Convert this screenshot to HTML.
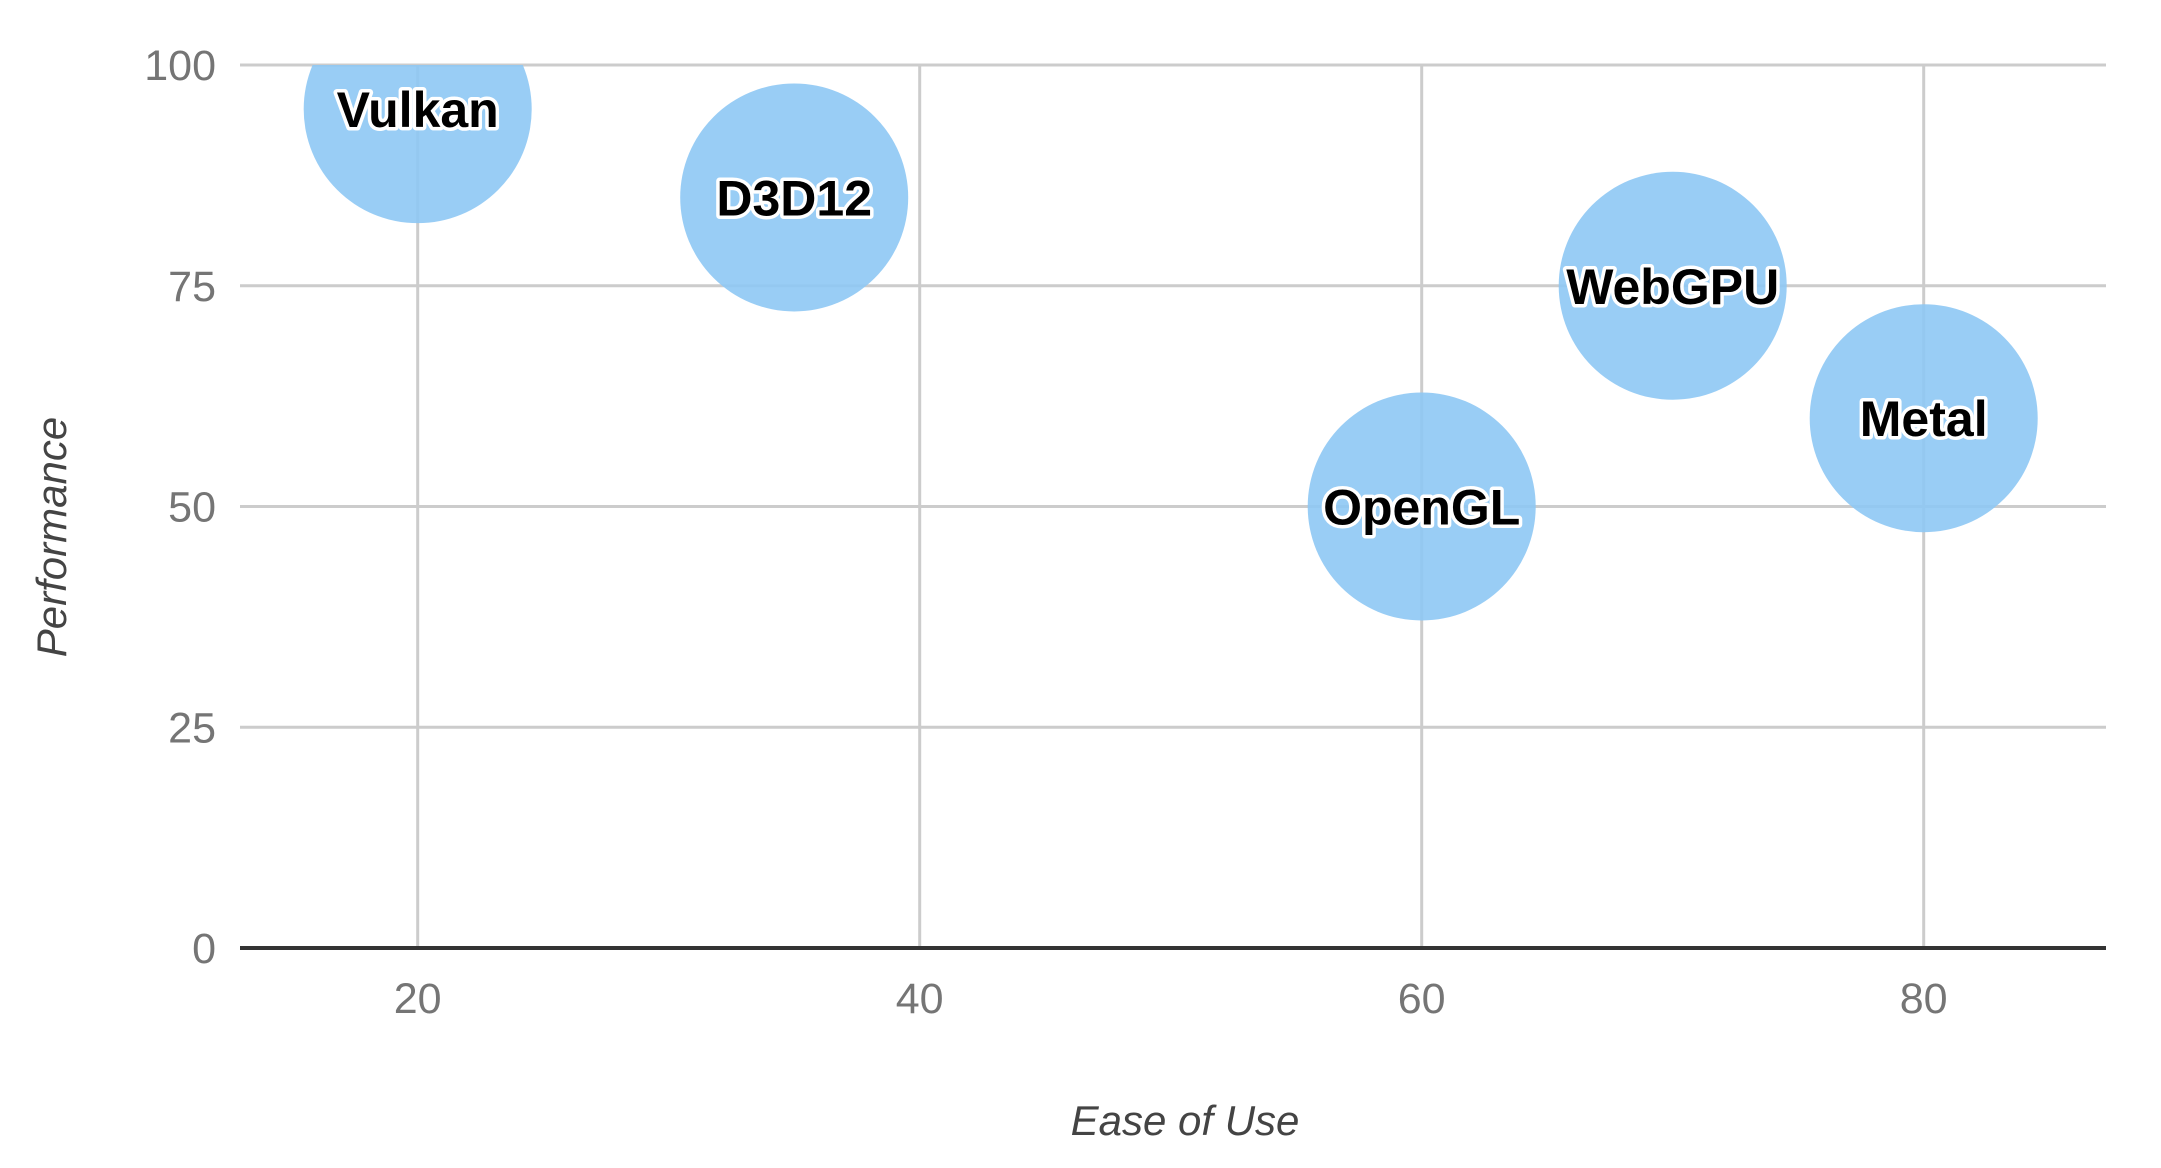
<!DOCTYPE html>
<html><head><meta charset="utf-8"><style>
html,body{margin:0;padding:0;background:#fff;}
svg{display:block;font-family:"Liberation Sans",sans-serif;}
</style></head><body>
<svg id="chart" width="2161" height="1168" viewBox="0 0 2161 1168">
<defs><clipPath id="plot"><rect x="240" y="65" width="1866" height="883"/></clipPath></defs>
<g id="grid"></g>
<g id="bubbles" clip-path="url(#plot)"></g>
<g id="axis"></g>
<g id="labels"></g>
<g id="ticks"></g>
<text x="1185" y="1135" text-anchor="middle" font-size="42" font-style="italic" fill="#444">Ease of Use</text>
<text transform="translate(66,537) rotate(-90)" text-anchor="middle" font-size="42" font-style="italic" fill="#444">Performance</text>
</svg>
<script>
const names = ["Vulkan","D3D12","WebGPU","OpenGL","Metal"];
const easeOfUse = [20,35,70,60,80];
const performance = [95,85,75,50,60];
const xTicks = [20,40,60,80];
const yTicks = [0,25,50,75,100];

const NS="http://www.w3.org/2000/svg";
const X0=240,X1=2106,Y0=948,Y1=65;
function xs(v){return 417.7+(v-20)*25.1;}
function ys(v){return Y0-(v/100)*(Y0-Y1);}
function mk(tag,attrs,parent){const e=document.createElementNS(NS,tag);for(const k in attrs)e.setAttribute(k,attrs[k]);parent.appendChild(e);return e;}
const grid=document.getElementById('grid'),bub=document.getElementById('bubbles'),lab=document.getElementById('labels'),tk=document.getElementById('ticks'),axg=document.getElementById('axis');
yTicks.forEach(t=>{
  if(t!==0){const l=mk('line',{x1:X0,x2:X1,y1:ys(t),y2:ys(t),stroke:'#cccccc','stroke-width':3},grid);
  
  }
  const tx=mk('text',{x:216,y:ys(t)+15,'text-anchor':'end','font-size':43,fill:'#757575'},tk);
  tx.textContent=t;
  
  
});
xTicks.forEach(t=>{
  const l=mk('line',{x1:xs(t),x2:xs(t),y1:Y1,y2:Y0,stroke:'#cccccc','stroke-width':3},grid);
  
  
  const tx=mk('text',{x:xs(t),y:1013,'text-anchor':'middle','font-size':43,fill:'#757575'},tk);
  tx.textContent=t;
  
  
});
const ax=mk('line',{x1:X0,x2:X1,y1:Y0,y2:Y0,stroke:'#333','stroke-width':4},axg);


names.forEach((n,i)=>{
  const c=mk('circle',{cx:xs(easeOfUse[i]),cy:ys(performance[i]),r:114,fill:'#8ec8f4','fill-opacity':0.9},bub);
  
  
  const t=mk('text',{x:xs(easeOfUse[i]),y:ys(performance[i])+18,'text-anchor':'middle','font-size':50,'font-weight':'bold',fill:'#000',stroke:'#fff','stroke-width':7,'paint-order':'stroke','stroke-linejoin':'round'},lab);
  t.textContent=n;
  
  
});
</script>
</body></html>
